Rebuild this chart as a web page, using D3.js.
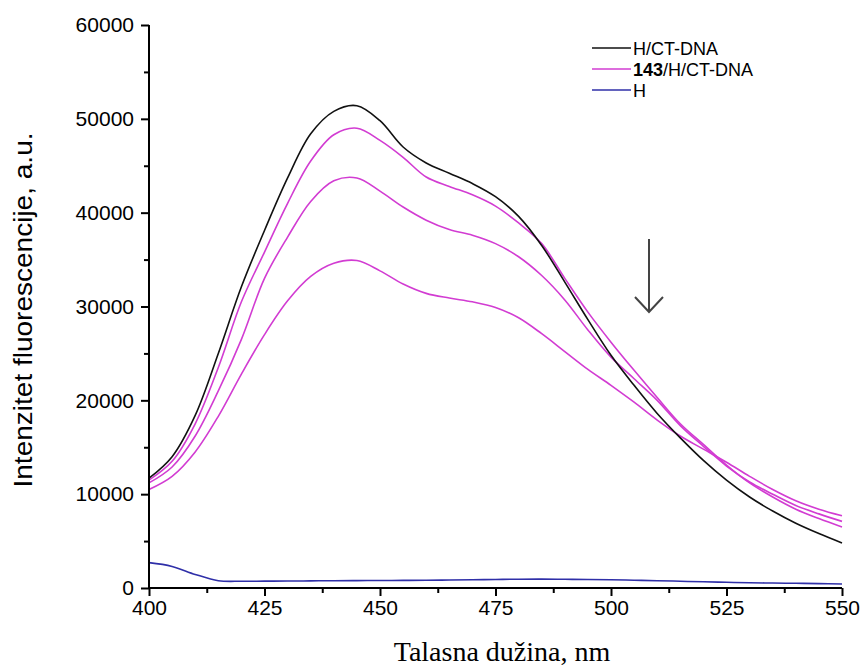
<!DOCTYPE html>
<html><head><meta charset="utf-8">
<script src="https://cdn.jsdelivr.net/npm/d3@7"></script>
<style>body{margin:0;background:#fff}svg{display:block}</style>
</head><body>
<svg id="chart" width="861" height="668"></svg>
<script>
const wavelengths = [400,405,410,415,420,425,430,435,440,445,450,455,460,465,470,475,480,485,490,495,500,505,510,515,520,525,530,535,540,545,550];
const hCtDna = [11700,14000,18400,25000,32100,38100,43700,48400,50800,51400,49800,47000,45300,44200,43100,41700,39600,36500,32600,28600,24800,21600,18600,16000,13600,11500,9700,8200,6900,5800,4800];
const complex1 = [11500,13500,17500,23500,30500,35800,41000,45500,48300,49000,47700,45900,43800,42800,41900,40700,38900,36700,33000,29400,26200,23200,20300,17500,15300,13100,11200,9700,8400,7400,6500];
const complex2 = [11200,12900,16200,21000,26500,33000,37400,41200,43400,43700,42300,40600,39200,38200,37600,36700,35300,33300,30700,27500,24600,22300,20000,17300,15100,13000,11300,10000,8800,7900,7100];
const complex3 = [10500,11900,14500,18300,22800,27000,30600,33200,34600,34900,33800,32400,31400,30900,30500,29900,28800,27100,25200,23300,21600,19800,17900,16200,14800,13400,11900,10500,9300,8400,7700];
const hOnly = [2700,2300,1450,780,720,730,740,760,780,790,800,810,820,850,880,910,940,950,930,910,880,830,780,720,660,610,560,530,500,470,430];
const xTicks = [400,425,450,475,500,525,550];
const yTicks = [0,10000,20000,30000,40000,50000,60000];
const legendLabels = ["H/CT-DNA","143/H/CT-DNA","H"];

const svg = d3.select("#chart");
const x = d3.scaleLinear().domain([400,550]).range([149,842]);
const y = d3.scaleLinear().domain([0,60000]).range([588,25]);

const magenta = "#d23cd2", black = "#111", blue = "#2f2fa8";
const sans = "'Liberation Sans', Arial, sans-serif";

const line = vals => d3.line().x((d,i)=>x(wavelengths[i])).y(d=>y(d)).curve(d3.curveCatmullRom.alpha(0.5))(vals);

const series = [
  {v: complex3, c: magenta},
  {v: complex2, c: magenta},
  {v: complex1, c: magenta},
  {v: hCtDna, c: black},
  {v: hOnly, c: blue}
];
svg.append("g").selectAll("path").data(series).join("path")
  .attr("d", d=>line(d.v)).attr("fill","none").attr("stroke", d=>d.c).attr("stroke-width",1.6);

// axes
const xAxis = svg.append("g").attr("transform","translate(0,588)")
  .call(d3.axisBottom(x).tickValues(xTicks).tickSize(8).tickPadding(4).tickFormat(d3.format("d")));
const xMinor = svg.append("g").attr("transform","translate(0,588)")
  .call(d3.axisBottom(x).tickValues(d3.range(412.5,550,25)).tickSize(5).tickFormat(""));
const yAxis = svg.append("g").attr("transform","translate(149,0)")
  .call(d3.axisLeft(y).tickValues(yTicks).tickSize(8).tickPadding(7).tickFormat(d3.format("d")));
const yMinor = svg.append("g").attr("transform","translate(149,0)")
  .call(d3.axisLeft(y).tickValues(d3.range(5000,60000,10000)).tickSize(5).tickFormat(""));
[xMinor,yMinor].forEach(g=>g.select(".domain").remove());
[xAxis,xMinor,yAxis,yMinor].forEach(g=>{
  g.selectAll("line").attr("stroke","#000").attr("stroke-width",2);
  g.select(".domain").attr("stroke","#000").attr("stroke-width",2);
  g.selectAll("text").attr("font-family",sans).attr("font-size",21).attr("fill","#000");
});
xAxis.select(".domain").attr("d","M149,0H842");
yAxis.select(".domain").attr("d","M0,25V588");

// axis titles
svg.append("text").attr("x",502).attr("y",661).attr("text-anchor","middle")
  .attr("font-family","'Liberation Serif', 'Times New Roman', serif").attr("font-size",28).text("Talasna dužina, nm");
svg.append("text").attr("transform","translate(32,310) rotate(-90)").attr("text-anchor","middle")
  .attr("font-family",sans).attr("font-size",25)
  .attr("textLength",355).attr("lengthAdjust","spacingAndGlyphs").text("Intenzitet fluorescencije, a.u.");

// legend
const legColors = [black, magenta, blue];
const leg = svg.append("g").attr("transform","translate(592,48)");
legendLabels.forEach((lab,i)=>{
  const row = leg.append("g").attr("transform",`translate(0,${i*21})`);
  row.append("line").attr("x1",0).attr("x2",39).attr("y1",0).attr("y2",0).attr("stroke",legColors[i]).attr("stroke-width",1.6);
  const t = row.append("text").attr("x",41).attr("y",7).attr("font-family",sans).attr("font-size",18);
  if (lab.startsWith("143")) {
    t.append("tspan").attr("font-weight","bold").text("143");
    t.append("tspan").text(lab.slice(3));
  } else t.text(lab);
});

// arrow
const ag = svg.append("g").attr("stroke","#444").attr("stroke-width",2).attr("fill","none");
ag.append("line").attr("x1",649).attr("y1",239).attr("x2",649).attr("y2",312);
ag.append("path").attr("d","M635,297L649,312L663,297");
</script>
</body></html>
